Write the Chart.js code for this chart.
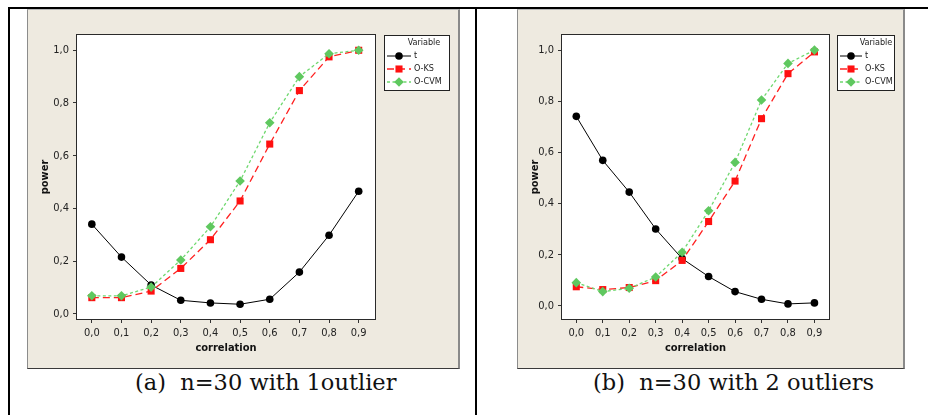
<!DOCTYPE html>
<html>
<head>
<meta charset="utf-8">
<script src="https://cdn.jsdelivr.net/npm/chart.js@4.4.1/dist/chart.umd.min.js"></script>
<style>
  html, body { margin: 0; padding: 0; background: #fff; }
  #page { position: relative; width: 928px; height: 415px; overflow: hidden; background: #fff; }
  .rule { position: absolute; background: #000; }
  .panel {
    position: absolute; background: #eeeae0; box-sizing: border-box;
    border-left: 1px solid #8c8c8c; border-top: 1px solid #b8b8b8;
    border-right: 2px solid #8a8a8a; border-bottom: 1px solid #3a3a3a;
  }
  .panel canvas { position: absolute; left: 0; top: 0; }
  .caption {
    position: absolute; white-space: pre; color: #111;
    font-family: "DejaVu Serif", "Liberation Serif", serif; font-size: 22.5px;
  }
</style>
</head>
<body>
<div id="page">
  <div class="rule" style="left:8px; top:7px; width:920px; height:2px;"></div>
  <div class="rule" style="left:8px; top:7px; width:2px; height:408px;"></div>
  <div class="rule" style="left:475px; top:7px; width:2px; height:408px;"></div>

  <div class="panel" style="left:27px; top:9px; width:433px; height:360px;">
    <canvas id="chartA" width="431" height="359"></canvas>
  </div>
  <div class="panel" style="left:517px; top:9px; width:388px; height:360px;">
    <canvas id="chartB" width="386" height="359"></canvas>
  </div>

  <div class="caption" style="left:135px; top:369px;">(a)  n=30 with 1outlier</div>
  <div class="caption" style="left:593px; top:369px;">(b)  n=30 with 2 outliers</div>
</div>

<script>
"use strict";

// Values
const correlation = [0.0, 0.1, 0.2, 0.3, 0.4, 0.5, 0.6, 0.7, 0.8, 0.9];
const powerTicks  = [0.0, 0.2, 0.4, 0.6, 0.8, 1.0];

// (a) n=30 with 1 outlier
const tPowerA    = [0.340, 0.215, 0.109, 0.051, 0.041, 0.036, 0.055, 0.158, 0.298, 0.465];
const oksPowerA  = [0.061, 0.061, 0.086, 0.172, 0.281, 0.428, 0.644, 0.847, 0.975, 1.000];
const ocvmPowerA = [0.068, 0.068, 0.101, 0.204, 0.330, 0.504, 0.725, 0.900, 0.987, 1.000];

// (b) n=30 with 2 outliers
const tPowerB    = [0.741, 0.569, 0.445, 0.301, 0.185, 0.115, 0.056, 0.026, 0.008, 0.012];
const oksPowerB  = [0.075, 0.064, 0.072, 0.099, 0.178, 0.330, 0.488, 0.732, 0.908, 0.993];
const ocvmPowerB = [0.091, 0.056, 0.069, 0.113, 0.210, 0.372, 0.561, 0.805, 0.948, 1.000];

const seriesNames = ["t", "O-KS", "O-CVM"];

const TICK_FONT = { family: "'DejaVu Sans Condensed', 'Liberation Sans Narrow', 'DejaVu Sans', sans-serif", size: 11 };
const TITLE_FONT = { family: "'DejaVu Sans Condensed', 'Liberation Sans Narrow', 'DejaVu Sans', sans-serif", size: 11, weight: "bold" };
const comma = v => v.toFixed(1).replace(".", ",");

const toPoints = ys => correlation.map((x, i) => ({ x: x, y: ys[i] }));

function buildDatasets(tVals, oksVals, ocvmVals) {
    return [
        {
            label: seriesNames[0], data: toPoints(tVals), order: 3,
            borderColor: "#000", backgroundColor: "#000", borderWidth: 1,
            pointStyle: "circle", pointRadius: 3.8, pointBorderWidth: 0
        },
        {
            label: seriesNames[1], data: toPoints(oksVals), order: 2,
            borderColor: "#ff2020", backgroundColor: "#ff1010", borderWidth: 1.3,
            borderDash: [7, 4],
            pointStyle: "rect", pointRadius: 5, pointBorderWidth: 0
        },
        {
            label: seriesNames[2], data: toPoints(ocvmVals), order: 1,
            borderColor: "#6fd86f", backgroundColor: "#5fc85f", borderWidth: 1.3,
            borderDash: [3, 2.5],
            pointStyle: "rectRot", pointRadius: 4.8, pointBorderWidth: 0
        }
    ];
}

// Plot frame (white area + box) and the Minitab style legend box
const minitabDecor = {
    id: "minitabDecor",
    beforeDraw(chart) {
        const a = chart.chartArea;
        chart.ctx.save();
        chart.ctx.fillStyle = "#fff";
        chart.ctx.fillRect(a.left, a.top, a.right - a.left, a.bottom - a.top);
        chart.ctx.restore();
    },
    beforeDatasetsDraw(chart) {
        const a = chart.chartArea;
        const ctx = chart.ctx;
        ctx.save();
        ctx.strokeStyle = "#2a2a2a";
        ctx.lineWidth = 1;
        ctx.strokeRect(a.left - 0.5, a.top - 0.5, a.right - a.left + 1, a.bottom - a.top + 1);
        ctx.restore();
    },
    afterDraw(chart, args, opts) {
        const ctx = chart.ctx;
        const box = opts.box;
        ctx.save();
        ctx.fillStyle = "#fff";
        ctx.fillRect(box.x, box.y, box.w, box.h);
        ctx.strokeStyle = "#222";
        ctx.lineWidth = 1;
        ctx.strokeRect(box.x + 0.5, box.y + 0.5, box.w - 1, box.h - 1);

        ctx.font = "9px 'DejaVu Sans Condensed', 'Liberation Sans Narrow', sans-serif";
        ctx.fillStyle = "#222";
        ctx.textBaseline = "middle";
        ctx.textAlign = "center";
        ctx.fillText("Variable", opts.titleX, box.y + 8);

        ctx.textAlign = "left";
        chart.data.datasets.forEach((ds, i) => {
            const y = box.y + 21 + i * 13;
            ctx.save();
            ctx.strokeStyle = ds.borderColor;
            ctx.lineWidth = ds.borderWidth;
            ctx.setLineDash(ds.borderDash || []);
            ctx.beginPath();
            ctx.moveTo(box.x + 3, y);
            ctx.lineTo(box.x + 3 + opts.sample, y);
            ctx.stroke();
            ctx.setLineDash([]);
            ctx.fillStyle = ds.backgroundColor;
            Chart.helpers.drawPoint(ctx, {
                pointStyle: ds.pointStyle, radius: ds.pointRadius, rotation: 0, borderWidth: 0
            }, box.x + 3 + opts.sample / 2, y);
            ctx.restore();
            ctx.fillText(ds.label, box.x + 6 + opts.sample, y);
        });
        ctx.restore();
    }
};

function makePowerChart(canvasId, datasets, layout) {
    return new Chart(document.getElementById(canvasId), {
        type: "line",
        data: { datasets: datasets },
        options: {
            responsive: false,
            animation: false,
            layout: { padding: { top: layout.top, right: layout.right, bottom: 0, left: 0 } },
            elements: { line: { tension: 0, fill: false } },
            plugins: {
                legend: { display: false },
                tooltip: { enabled: false },
                minitabDecor: { box: layout.legendBox, titleX: layout.legendTitleX, sample: layout.sample }
            },
            scales: {
                x: {
                    type: "linear",
                    min: layout.xMin, max: layout.xMax,
                    afterBuildTicks: s => { s.ticks = correlation.map(v => ({ value: v })); },
                    afterFit: s => { s.height = layout.xHeight; },
                    grid: { drawOnChartArea: false, drawTicks: true, tickLength: 4, color: "#333" },
                    border: { display: false },
                    ticks: { font: TICK_FONT, color: "#222", padding: 4, maxRotation: 0, autoSkip: false,
                             callback: v => comma(v) },
                    title: { display: true, text: "correlation", font: TITLE_FONT, color: "#111",
                             padding: { top: 0, bottom: layout.xTitlePad } }
                },
                y: {
                    type: "linear",
                    min: layout.yMin, max: layout.yMax,
                    afterBuildTicks: s => { s.ticks = powerTicks.map(v => ({ value: v })); },
                    afterFit: s => { s.width = layout.yWidth; },
                    grid: { drawOnChartArea: false, drawTicks: true, tickLength: 4, color: "#333" },
                    border: { display: false },
                    ticks: { font: TICK_FONT, color: "#222", padding: 4, callback: v => comma(v) },
                    title: { display: true, text: "power", font: TITLE_FONT, color: "#111",
                             padding: { top: layout.yTitlePad, bottom: 0 } }
                }
            }
        },
        plugins: [minitabDecor]
    });
}

makePowerChart("chartA", buildDatasets(tPowerA, oksPowerA, ocvmPowerA), {
    top: 25, right: 84, xHeight: 50, yWidth: 49,
    xMin: -0.05, xMax: 0.955, yMin: -0.02, yMax: 1.058,
    xTitlePad: 14, yTitlePad: 11,
    legendBox: { x: 356, y: 25, w: 66, h: 56 }, legendTitleX: 396, sample: 24
});

makePowerChart("chartB", buildDatasets(tPowerB, oksPowerB, ocvmPowerB), {
    top: 25, right: 75, xHeight: 50, yWidth: 44,
    xMin: -0.054, xMax: 0.955, yMin: -0.051, yMax: 1.059,
    xTitlePad: 14, yTitlePad: 11,
    legendBox: { x: 319, y: 25, w: 58, h: 56 }, legendTitleX: 358, sample: 22
});
</script>
</body>
</html>
